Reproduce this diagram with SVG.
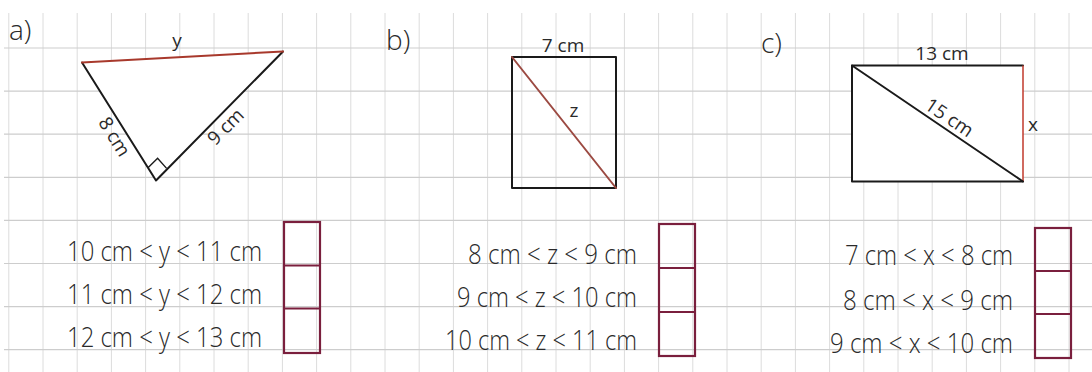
<svg xmlns="http://www.w3.org/2000/svg" width="1092" height="372" viewBox="0 0 1092 372">
<style>
.gv{stroke:#dcdcdc;stroke-width:1}
.gh{stroke:#cdcdcd;stroke-width:1.2}
.edge{stroke:#1a1a1a;stroke-width:2;fill:none;stroke-linecap:round;stroke-linejoin:round}
.red{stroke:#a8392c;stroke-width:2;fill:none;stroke-linecap:round}
.box{stroke:#7a1f3d;stroke-width:2.2;fill:none}
.t{font-family:"Open Sans","Liberation Sans",sans-serif;fill:#2a2a2a;font-weight:300}
.row{font-size:28px}
.lab{font-size:19px;font-weight:400}
.part{font-size:28px}
</style>
<rect width="1092" height="372" fill="#ffffff"/>
<g id="grid">
<g class="gv">
<line x1="8.8" y1="13" x2="8.8" y2="372"/><line x1="43" y1="13" x2="43" y2="372"/><line x1="77.2" y1="13" x2="77.2" y2="372"/><line x1="111.4" y1="13" x2="111.4" y2="372"/><line x1="145.6" y1="13" x2="145.6" y2="372"/><line x1="179.8" y1="13" x2="179.8" y2="372"/><line x1="214" y1="13" x2="214" y2="372"/><line x1="248.2" y1="13" x2="248.2" y2="372"/><line x1="282.4" y1="13" x2="282.4" y2="372"/><line x1="316.6" y1="13" x2="316.6" y2="372"/><line x1="350.8" y1="13" x2="350.8" y2="372"/><line x1="385" y1="13" x2="385" y2="372"/><line x1="419.2" y1="13" x2="419.2" y2="372"/><line x1="453.4" y1="13" x2="453.4" y2="372"/><line x1="487.6" y1="13" x2="487.6" y2="372"/><line x1="521.8" y1="13" x2="521.8" y2="372"/><line x1="556" y1="13" x2="556" y2="372"/><line x1="590.2" y1="13" x2="590.2" y2="372"/><line x1="624.4" y1="13" x2="624.4" y2="372"/><line x1="658.6" y1="13" x2="658.6" y2="372"/><line x1="692.8" y1="13" x2="692.8" y2="372"/><line x1="727" y1="13" x2="727" y2="372"/><line x1="761.2" y1="13" x2="761.2" y2="372"/><line x1="795.4" y1="13" x2="795.4" y2="372"/><line x1="829.6" y1="13" x2="829.6" y2="372"/><line x1="863.8" y1="13" x2="863.8" y2="372"/><line x1="898" y1="13" x2="898" y2="372"/><line x1="932.2" y1="13" x2="932.2" y2="372"/><line x1="966.4" y1="13" x2="966.4" y2="372"/><line x1="1000.6" y1="13" x2="1000.6" y2="372"/><line x1="1034.8" y1="13" x2="1034.8" y2="372"/><line x1="1069" y1="13" x2="1069" y2="372"/>
</g>
<g class="gh">
<line x1="4" y1="48" x2="1092" y2="48"/><line x1="4" y1="91.1" x2="1092" y2="91.1"/><line x1="4" y1="134.2" x2="1092" y2="134.2"/><line x1="4" y1="177.3" x2="1092" y2="177.3"/><line x1="4" y1="220.4" x2="1092" y2="220.4"/><line x1="4" y1="263.5" x2="1092" y2="263.5"/><line x1="4" y1="306.6" x2="1092" y2="306.6"/><line x1="4" y1="349.7" x2="1092" y2="349.7"/>
</g>
</g>

<g id="part-a">
<text class="t part" x="9" y="40">a)</text>
<polygon points="82,62.5 283,51.5 156,180.5" fill="#ffffff" stroke="none"/>
<path class="edge" d="M82,62.5 L156,180.5 L283,51.5"/>
<line class="red" x1="82" y1="62.5" x2="283" y2="51.5"/>
<path d="M148,167.8 L157.6,158.2 L166.6,168.4" fill="none" stroke="#1a1a1a" stroke-width="1.4"/>
<text class="t lab" x="177" y="47" text-anchor="middle" font-size="21">y</text>
<text class="t lab" transform="translate(114,137) rotate(58)" x="0" y="6" text-anchor="middle">8 cm</text>
<text class="t lab" transform="translate(226,127) rotate(-45)" x="0" y="6" text-anchor="middle">9 cm</text>
<text class="t row" x="67" y="261" textLength="195" lengthAdjust="spacingAndGlyphs">10 cm &lt; y &lt; 11 cm</text>
<text class="t row" x="67" y="304" textLength="195" lengthAdjust="spacingAndGlyphs">11 cm &lt; y &lt; 12 cm</text>
<text class="t row" x="67" y="347" textLength="195" lengthAdjust="spacingAndGlyphs">12 cm &lt; y &lt; 13 cm</text>
<rect class="box" x="284" y="222" width="36" height="131" fill="#ffffff"/>
<line class="box" x1="284" y1="265.5" x2="320" y2="265.5"/>
<line class="box" x1="284" y1="308.5" x2="320" y2="308.5"/>
</g>

<g id="part-b">
<text class="t part" x="386" y="50">b)</text>
<rect class="edge" x="512" y="57" width="104" height="131" fill="#ffffff"/>
<line x1="512" y1="57" x2="616" y2="188" stroke="#9c4a42" stroke-width="2" stroke-linecap="round"/>
<text class="t lab" x="563" y="52" text-anchor="middle">7 cm</text>
<text class="t lab" x="574" y="117" text-anchor="middle">z</text>
<text class="t row" x="468" y="264" textLength="169" lengthAdjust="spacingAndGlyphs">8 cm &lt; z &lt; 9 cm</text>
<text class="t row" x="457" y="307" textLength="180" lengthAdjust="spacingAndGlyphs">9 cm &lt; z &lt; 10 cm</text>
<text class="t row" x="445" y="350" textLength="192" lengthAdjust="spacingAndGlyphs">10 cm &lt; z &lt; 11 cm</text>
<rect class="box" x="659" y="224" width="36" height="132" fill="#ffffff"/>
<line class="box" x1="659" y1="268" x2="695" y2="268"/>
<line class="box" x1="659" y1="312" x2="695" y2="312"/>
</g>

<g id="part-c">
<text class="t part" x="761" y="53">c)</text>
<rect x="852" y="65.5" width="171" height="116" fill="#ffffff"/>
<path class="edge" d="M1023,65.5 L852,65.5 L852,181.5 L1023,181.5"/>
<line x1="1023" y1="65.5" x2="1023" y2="181.5" stroke="#c0392b" stroke-width="1.5"/>
<line class="edge" x1="852" y1="65.5" x2="1023" y2="181.5"/>
<text class="t lab" x="942" y="60" text-anchor="middle">13 cm</text>
<text class="t lab" transform="translate(949,118) rotate(34)" x="0" y="6" text-anchor="middle">15 cm</text>
<text class="t lab" x="1033" y="131" text-anchor="middle">x</text>
<text class="t row" x="845" y="265" textLength="168" lengthAdjust="spacingAndGlyphs">7 cm &lt; x &lt; 8 cm</text>
<text class="t row" x="843" y="310" textLength="170" lengthAdjust="spacingAndGlyphs">8 cm &lt; x &lt; 9 cm</text>
<text class="t row" x="830" y="353" textLength="183" lengthAdjust="spacingAndGlyphs">9 cm &lt; x &lt; 10 cm</text>
<rect class="box" x="1035" y="228" width="36" height="130" fill="#ffffff"/>
<line class="box" x1="1035" y1="271" x2="1071" y2="271"/>
<line class="box" x1="1035" y1="314" x2="1071" y2="314"/>
</g>
</svg>
